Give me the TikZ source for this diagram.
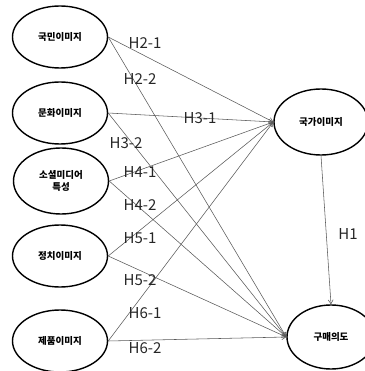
\documentclass[tikz,border=0pt]{standalone}
\usepackage{fontspec}
\newfontfamily\krfont{Noto Sans CJK KR}
\usepackage{tikz}
\usetikzlibrary{arrows.meta,shapes.geometric}
\tikzset{
  construct/.style={ellipse, draw=black, line width=1.4pt, fill=white,
                    minimum width=95pt, minimum height=62pt, inner sep=0pt,
                    align=center, font=\krfont\bfseries\fontsize{9.5}{12}\selectfont},
  hyp/.style  ={-{Straight Barb[length=4pt,width=5pt]}, line width=0.55pt, black!65},
  hlabel/.style={inner sep=0pt, text=black!85, font=\krfont\fontsize{15}{15}\selectfont},
}

\begin{document}
\begin{tikzpicture}[x=1pt, y=-1pt]
\useasboundingbox (0,0) rectangle (364,371);
% independent constructs
\node[construct] (nation)   at (60, 37)  {국민이미지};
\node[construct] (culture)  at (60, 113) {문화이미지};
\node[construct, minimum height=66pt] (social) at (61, 181) {소셜미디어\\특성};
\node[construct] (politics) at (60, 256) {정치이미지};
\node[construct] (product)  at (60, 341) {제품이미지};
% mediator and outcome
\node[construct, minimum width=94pt, minimum height=66pt] (country)  at (321, 122) {국가이미지};
\node[construct, minimum width=88pt, minimum height=64pt] (purchase) at (331, 337) {구매의도};
% paths
\draw[hyp] (nation.east)   -- (country.west);
\draw[hyp] (culture.east)  -- (country.west);
\draw[hyp] (social.east)   -- (country.west);
\draw[hyp] (politics.east) -- (country.west);
\draw[hyp] (product.east)  -- (country.west);
\draw[hyp] (nation.east)   -- (purchase.west);
\draw[hyp] (culture.east)  -- (purchase.west);
\draw[hyp] (social.east)   -- (purchase.west);
\draw[hyp] (politics.east) -- (purchase.west);
\draw[hyp] (product.east)  -- (purchase.west);
\draw[hyp] (country.south) -- (purchase.north);
% hypothesis labels
\node[hlabel] (h21) at (145, 43)  {H2-1};
\node[hlabel] (h22) at (140, 79)  {H2-2};
\node[hlabel] (h31) at (200, 118) {H3-1};
\node[hlabel] (h32) at (126, 143) {H3-2};
\node[hlabel] (h41) at (140, 172) {H4-1};
\node[hlabel] (h42) at (140, 205) {H4-2};
\node[hlabel] (h51) at (140, 238) {H5-1};
\node[hlabel] (h52) at (140, 280) {H5-2};
\node[hlabel] (h61) at (145, 313) {H6-1};
\node[hlabel] (h62) at (145, 348) {H6-2};
\node[hlabel] (h1)  at (348, 234) {H1};
\end{tikzpicture}
\end{document}
